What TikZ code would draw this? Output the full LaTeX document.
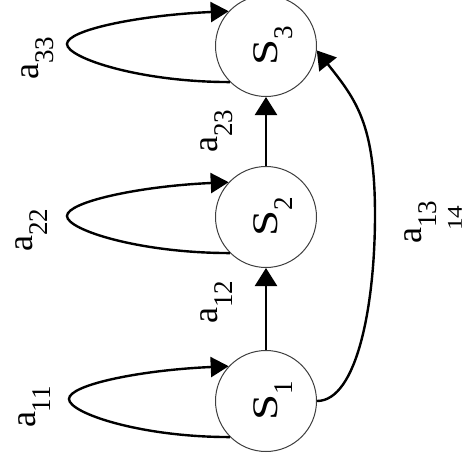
\documentclass[tikz,border=0pt]{standalone}
\usepackage{fontspec}
\setmainfont{Liberation Serif}
\usetikzlibrary{arrows.meta}
\newcommand{\subsc}[1]{\raisebox{-15pt}{\fontsize{27}{27}\selectfont #1}}
\newcommand{\lab}[2]{#1\subsc{#2}}
\newcommand{\slab}[1]{\rotatebox{90}{\rule{0pt}{39pt}\scalebox{1.3}[1]{S}\subsc{#1}}}
\tikzset{
  state/.style={circle,draw=black!75,line width=1pt,minimum size=101pt,inner sep=0pt,
    font=\fontsize{36}{40}\selectfont},
  lbl/.style={rotate=90,inner sep=0pt,font=\fontsize{36}{40}\selectfont},
  edge/.style={line width=2.4pt,-{Triangle[length=18pt,width=22pt]}},
  loopedge/.style={line width=2.4pt,-{Triangle[length=18pt,width=20pt]}}
}
\begin{document}
\begin{tikzpicture}[x=1pt,y=-1pt]
\useasboundingbox (0,0) rectangle (475,466);
\node[state] (s1) at (266,401) {\slab{1}};
\node[state] (s2) at (266,217) {\slab{2}};
\node[state] (s3) at (266,46) {\slab{3}};
\coordinate (t1) at (69,399);
\coordinate (t2) at (67,216);
\coordinate (t3) at (67,44);
\coordinate (m13) at (375,215);
\draw[loopedge] (s1.225) .. controls +(-90,0) and +(0,14) .. (t1) .. controls +(0,-14) and +(-90,4) .. (s1.137);
\draw[loopedge] (s2.225) .. controls +(-90,0) and +(0,14) .. (t2) .. controls +(0,-14) and +(-90,4) .. (s2.137);
\draw[loopedge] (s3.225) .. controls +(-90,0) and +(0,14) .. (t3) .. controls +(0,-14) and +(-90,4) .. (s3.137);
\draw[edge] (s1.north) -- (s2.south);
\draw[edge] (s2.north) -- (s3.south);
\draw[line width=2.4pt] (s1.east) .. controls +(40,0) and +(0,90) .. (m13);
\draw[edge] (m13) .. controls +(0,-90) and +(40,50) .. (s3.-5);
\node[lbl] (l11) at (35,407) {\lab{a}{11}};
\node[lbl] (l22) at (32,230) {\lab{a}{22}};
\node[lbl] (l33) at (38,58) {\lab{a}{33}};
\node[lbl] (l12) at (217,302) {\lab{a}{12}};
\node[lbl] (l23) at (217,131) {\lab{a}{23}};
\node[lbl] (l13) at (421,222) {\lab{a}{13}};
\node[lbl,font=\fontsize{21}{21}\selectfont] (pg) at (455,218) {\scalebox{1.2}[1]{14}};
\end{tikzpicture}
\end{document}
